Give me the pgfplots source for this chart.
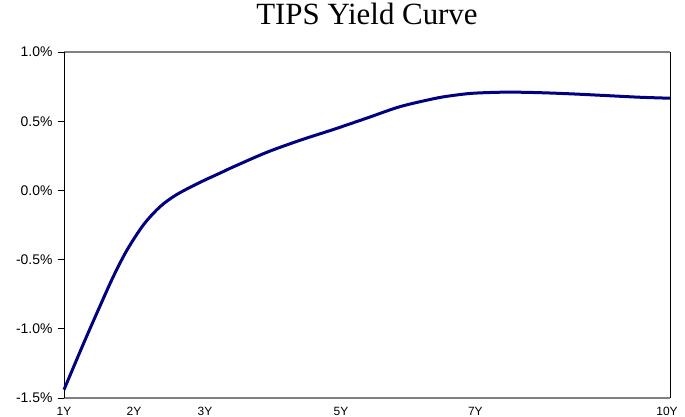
\documentclass[border=0pt]{standalone}
\usepackage{fontspec}
\setmainfont{Liberation Sans}
\newfontfamily\titlefont{Liberation Serif}
\usepackage{pgfplots}
\pgfplotsset{compat=1.18}
\definecolor{curve}{RGB}{0,0,128}
\begin{document}
\begin{tikzpicture}
\begin{axis}[
  scale only axis,
  width=606bp, height=346bp,
  xmin=1, xmax=10, ymin=-1.5, ymax=1.0,
  separate axis lines,
  x axis line style={draw=gray, line width=1.3bp},
  y axis line style={draw=black, line width=0.9bp},
  xtick={1,2.04,3.094,5.114,7.11,9.956},
  xticklabels={1Y,2Y,3Y,5Y,7Y,10Y},
  xtick style={draw=none},
  ytick={-1.5,-1.0,-0.5,0,0.5,1.0},
  yticklabels={-1.5\%,-1.0\%,-0.5\%,0.0\%,0.5\%,1.0\%},
  ytick pos=left,
  tick align=outside,
  major tick length=6bp,
  ytick style={draw=black, line width=0.8bp},
  /pgf/number format/assume math mode=true,
  xticklabel style={font=\fontsize{12}{13}\selectfont, yshift=0bp},
  yticklabel style={font=\fontsize{14}{15}\selectfont, xshift=-2bp},
  title={TIPS Yield Curve},
  title style={font=\titlefont\fontsize{31}{34}\selectfont, at={(0.5,1)}, anchor=base, yshift=22bp},
  clip=false,
]
\addplot[curve, line width=3bp, smooth, tension=0.5] coordinates {
(1.0,-1.44) (1.287,-1.11) (1.535,-0.835) (1.732,-0.623) (1.931,-0.435)
(2.178,-0.250) (2.426,-0.118) (2.674,-0.030) (3.020,0.058) (3.317,0.125)
(3.515,0.170) (4.011,0.275) (4.505,0.362) (5.0,0.440) (5.495,0.522)
(5.990,0.605) (6.485,0.662) (6.733,0.683) (7.075,0.702) (7.575,0.710)
(8.07,0.706) (8.56,0.697) (9.06,0.685) (9.555,0.673) (10,0.666)
};
\end{axis}
\pgfresetboundingbox
\path[use as bounding box] (-64bp,-19bp) rectangle (621bp,398bp);
\end{tikzpicture}
\end{document}
